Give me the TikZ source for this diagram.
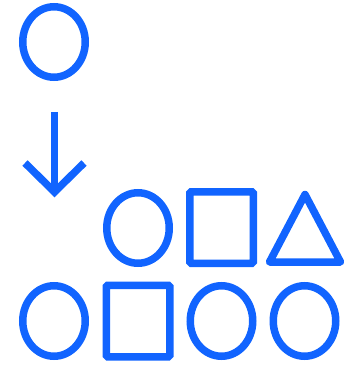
\documentclass[tikz,border=0pt]{standalone}
\usetikzlibrary{shapes.geometric}
\definecolor{sblue}{RGB}{17,100,255}
\begin{document}
\begin{tikzpicture}[x=1pt,y=-1pt,
  shp/.style={draw=sblue,line width=7.5pt,inner sep=0pt},
  ell/.style={shp,ellipse,minimum width=62.5pt,minimum height=70.5pt},
  sq/.style={shp,rectangle,minimum width=63.5pt,minimum height=71.5pt,rounded corners=1.5pt},
  ln/.style={draw=sblue,line width=7.5pt}]
\useasboundingbox (0,0) rectangle (350,366);
\node[ell] (c0) at (54,42) {};
\coordinate (atop) at (54.5,112);
\coordinate (atip) at (54.5,192);
\coordinate (al) at (25,163);
\coordinate (ar) at (84,163);
\draw[ln] (atop) -- (atip);
\draw[ln,line join=miter] (al) -- (atip) -- (ar);
\node[ell] (c1) at (138,228) {};
\node[sq] (s1) at (221.5,227.5) {};
\coordinate (ta) at (305,194.5);
\coordinate (tl) at (269.5,262);
\coordinate (tr) at (340.5,262);
\draw[ln,line join=round] (ta) -- (tl) -- (tr) -- cycle;
\node[ell] (c2) at (54,321) {};
\node[sq] (s2) at (138,321) {};
\node[ell] (c3) at (221.5,321) {};
\node[ell] (c4) at (304.5,321) {};
\end{tikzpicture}
\end{document}
